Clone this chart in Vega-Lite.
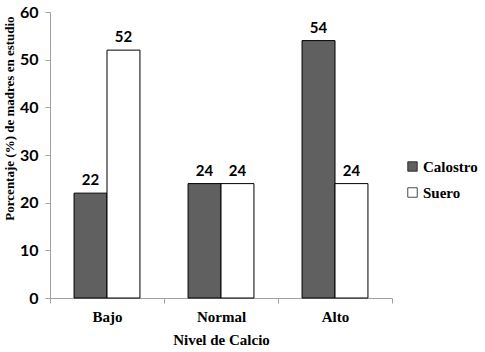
{
  "$schema": "https://vega.github.io/schema/vega-lite/v6.json",
  "autosize": "none",
  "padding": {"left": 50, "top": 12, "right": 93, "bottom": 54},
  "width": 342,
  "height": 286,
  "background": "white",
  "data": {"values": [
    {"nivel": "Bajo", "serie": "Calostro", "valor": 22},
    {"nivel": "Bajo", "serie": "Suero", "valor": 52},
    {"nivel": "Normal", "serie": "Calostro", "valor": 24},
    {"nivel": "Normal", "serie": "Suero", "valor": 24},
    {"nivel": "Alto", "serie": "Calostro", "valor": 54},
    {"nivel": "Alto", "serie": "Suero", "valor": 24}
  ]},
  "config": {"view": {"stroke": null}, "font": "Liberation Serif",
    "axis": {"labelFont": "Liberation Serif", "titleFont": "Liberation Serif"},
    "legend": {"labelFont": "Liberation Serif"}},
  "encoding": {
    "x": {"field": "nivel", "type": "nominal", "sort": ["Bajo", "Normal", "Alto"],
      "scale": {"paddingInner": 0, "paddingOuter": 0},
      "axis": {"title": "Nivel de Calcio", "labelAngle": 0, "tickBand": "extent",
        "domainColor": "#a0a0a0", "tickColor": "#a0a0a0", "tickSize": 5,
        "labelFontWeight": 700, "labelFontSize": 15, "labelColor": "#000", "labelPadding": 6,
        "titleFontWeight": 700, "titleFontSize": 15, "titleColor": "#000", "titlePadding": 8}},
    "xOffset": {"field": "serie", "type": "nominal", "sort": ["Calostro", "Suero"],
      "scale": {"paddingInner": 0, "paddingOuter": 0.73}},
    "y": {"field": "valor", "type": "quantitative",
      "scale": {"domain": [0, 60], "nice": false},
      "axis": {"title": "Porcentaje (%) de madres en estudio", "values": [0, 10, 20, 30, 40, 50, 60], "grid": false,
        "domainColor": "#a0a0a0", "tickColor": "#a0a0a0", "tickSize": 5,
        "labelFont": "Lato", "labelFontWeight": "bold", "labelFontSize": 16, "labelColor": "#000", "labelPadding": 7,
        "titleFontWeight": "bold", "titleFontSize": 13, "titleColor": "#000",
        "titleX": -34, "titleY": 106, "titleAngle": 270, "titleBaseline": "bottom", "titleAlign": "center"}}
  },
  "layer": [
    {
      "mark": {"type": "bar", "stroke": "#000", "strokeWidth": 1},
      "encoding": {
        "fill": {"field": "serie", "type": "nominal",
          "scale": {"domain": ["Calostro", "Suero"], "range": ["#606060", "#ffffff"]},
          "legend": {"title": null, "orient": "none", "legendX": 355, "legendY": 147,
            "symbolType": "square", "symbolSize": 90, "symbolStrokeColor": "#000", "symbolStrokeWidth": 0.7,
            "labelFontWeight": 700, "labelFontSize": 15, "labelColor": "#000",
            "rowPadding": 10, "labelOffset": 3}}
      }
    },
    {
      "mark": {"type": "text", "dy": -13, "font": "Lato", "fontWeight": "bold", "fontSize": 15, "color": "#000"},
      "encoding": {"text": {"field": "valor", "type": "quantitative"}}
    }
  ]
}
